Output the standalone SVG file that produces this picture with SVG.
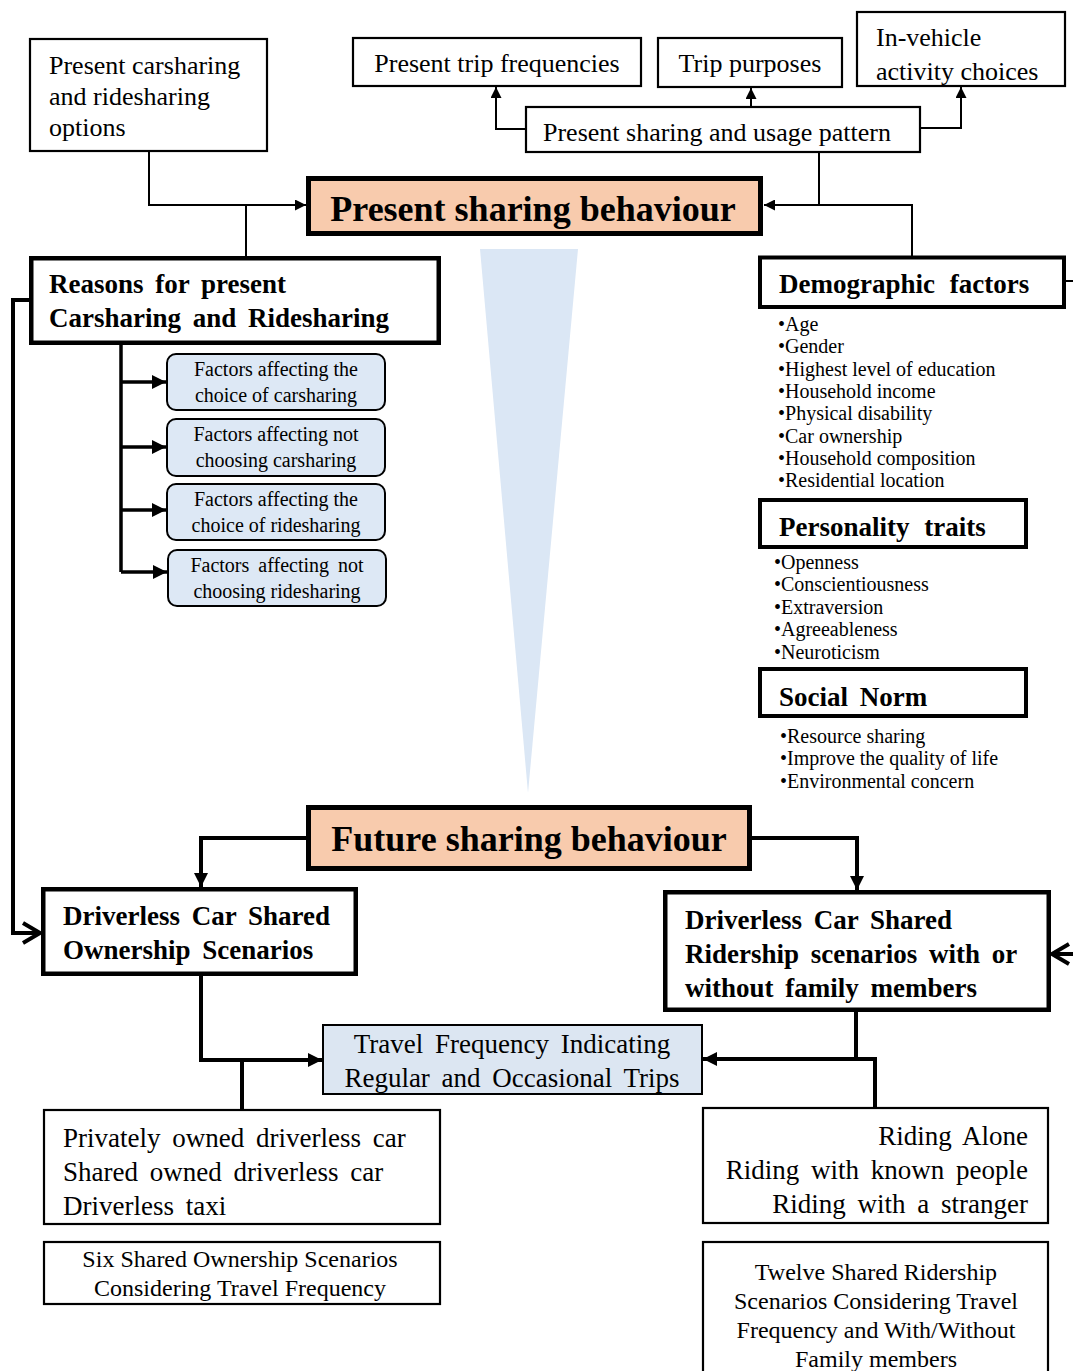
<svg xmlns="http://www.w3.org/2000/svg" width="1073" height="1371" viewBox="0 0 1073 1371">
  <style>
    .t { font-family: "Liberation Serif", "Times New Roman", serif; fill: #000; }
    .r26 { font-size: 26px; }
    .r27 { font-size: 27px; word-spacing: 5px; }
    .r24 { font-size: 24px; }
    .s20 { font-size: 20px; }
    .b27 { font-size: 27px; font-weight: bold; word-spacing: 5px; }
    .h36 { font-size: 36px; font-weight: bold; }
    .box { fill: #fff; stroke: #000; stroke-width: 2.2; }
    .boxb { fill: #fff; stroke: #000; stroke-width: 4.5; }
    .peach { fill: #f8cbad; stroke: #000; stroke-width: 5; }
    .rbox { fill: #dde8f5; stroke: #000; stroke-width: 2; }
    .blue { fill: #dce6f2; stroke: #000; stroke-width: 2; }
    .thin { fill: none; stroke: #000; stroke-width: 2; }
    .mid { fill: none; stroke: #000; stroke-width: 3.5; }
    .thick { fill: none; stroke: #000; stroke-width: 4; }
    .mid2 { text-anchor: middle; }
    .end { text-anchor: end; }
  </style>
  <defs>
    <marker id="tri" viewBox="0 0 12 12" refX="12" refY="6" markerWidth="11" markerHeight="11" orient="auto" markerUnits="userSpaceOnUse">
      <path d="M0,0 L12,6 L0,12 z" fill="#000"/>
    </marker>
    <marker id="triB" viewBox="0 0 14 14" refX="14" refY="7" markerWidth="14" markerHeight="14" orient="auto" markerUnits="userSpaceOnUse">
      <path d="M0,0 L14,7 L0,14 z" fill="#000"/>
    </marker>
    <marker id="chev" viewBox="0 0 20 24" refX="18" refY="12" markerWidth="20" markerHeight="24" orient="auto" markerUnits="userSpaceOnUse" overflow="visible">
      <path d="M1,2 L18,12 L1,22" fill="none" stroke="#000" stroke-width="4"/>
    </marker>
  </defs>

  <!-- background -->
  <rect x="0" y="0" width="1073" height="1371" fill="#fff"/>

  <!-- tapering band between present and future behaviour -->
  <polygon id="taper" points="480,249 578,249 528,793" fill="#dbe7f5"/>

  <!-- connectors -->
  <g id="connectors">
    <path class="thin" d="M149,152 V205 H306" marker-end="url(#tri)"/>
    <path class="thin" d="M246,205 V257"/>
    <path class="thin" d="M819,153 V205 H764" marker-end="url(#tri)"/>
    <path class="thin" d="M819,205 H912 V257"/>
    <path class="thin" d="M526,129 H496 V87" marker-end="url(#tri)"/>
    <path class="thin" d="M751,107 V88" marker-end="url(#tri)"/>
    <path class="thin" d="M920,128 H961 V87" marker-end="url(#tri)"/>
    <path class="thin" d="M1065,281 H1073"/>

    <path class="mid" d="M121,344 V572"/>
    <path class="mid" d="M121,382 H166" marker-end="url(#triB)"/>
    <path class="mid" d="M121,447 H166" marker-end="url(#triB)"/>
    <path class="mid" d="M121,510 H166" marker-end="url(#triB)"/>
    <path class="mid" d="M121,572 H167" marker-end="url(#triB)"/>

    <path class="thick" d="M31,300 H13 V933 H40" marker-end="url(#chev)"/>
    <path class="thick" d="M1073,954 H1052" marker-end="url(#chev)"/>

    <path class="thick" d="M308,838 H201 V887" marker-end="url(#triB)"/>
    <path class="thick" d="M750,838 H857 V890" marker-end="url(#triB)"/>
    <path class="thick" d="M201,975 V1060 H322" marker-end="url(#triB)"/>
    <path class="thick" d="M242,1060 V1109"/>
    <path class="thick" d="M856,1011 V1059 H703" marker-end="url(#triB)"/>
    <path class="thick" d="M856,1059 H875 V1107"/>
  </g>

  <!-- top row -->
  <g id="n-options">
    <rect class="box" x="30" y="39" width="237" height="112"/>
    <text class="t r26" x="49" y="74">Present carsharing</text>
    <text class="t r26" x="49" y="105">and ridesharing</text>
    <text class="t r26" x="49" y="136">options</text>
  </g>
  <g id="n-tripfreq">
    <rect class="box" x="353" y="38" width="288" height="48"/>
    <text class="t r26 mid2" x="497" y="72">Present trip frequencies</text>
  </g>
  <g id="n-purposes">
    <rect class="box" x="658" y="38" width="184" height="49"/>
    <text class="t r26 mid2" x="750" y="72">Trip purposes</text>
  </g>
  <g id="n-invehicle">
    <rect class="box" x="857" y="12" width="208" height="74"/>
    <text class="t r26" x="876" y="46">In-vehicle</text>
    <text class="t r26" x="876" y="80">activity choices</text>
  </g>
  <g id="n-usage">
    <rect class="box" x="526" y="107" width="394" height="45"/>
    <text class="t r26" x="543" y="141">Present sharing and usage pattern</text>
  </g>

  <!-- present behaviour -->
  <g id="n-present">
    <rect class="peach" x="308.5" y="178.5" width="452" height="55"/>
    <text class="t h36 mid2" x="533" y="221">Present sharing behaviour</text>
  </g>

  <g id="n-reasons">
    <rect class="boxb" x="31.25" y="258.25" width="407.5" height="84.5"/>
    <text class="t b27" x="49" y="293">Reasons for present</text>
    <text class="t b27" x="49" y="327">Carsharing and Ridesharing</text>
  </g>

  <g id="n-f1">
    <rect class="rbox" x="167" y="354" width="218" height="56" rx="9"/>
    <text class="t s20 mid2" x="276" y="376">Factors affecting the</text>
    <text class="t s20 mid2" x="276" y="402">choice of carsharing</text>
  </g>
  <g id="n-f2">
    <rect class="rbox" x="167" y="419" width="218" height="57" rx="9"/>
    <text class="t s20 mid2" x="276" y="441">Factors affecting not</text>
    <text class="t s20 mid2" x="276" y="467">choosing carsharing</text>
  </g>
  <g id="n-f3">
    <rect class="rbox" x="167" y="484" width="218" height="56" rx="9"/>
    <text class="t s20 mid2" x="276" y="506">Factors affecting the</text>
    <text class="t s20 mid2" x="276" y="532">choice of ridesharing</text>
  </g>
  <g id="n-f4">
    <rect class="rbox" x="168" y="550" width="218" height="56" rx="9"/>
    <text class="t s20 mid2" x="277" y="572" style="word-spacing:4px">Factors affecting not</text>
    <text class="t s20 mid2" x="277" y="598">choosing ridesharing</text>
  </g>

  <!-- right column of factors -->
  <g id="n-demographic">
    <rect class="boxb" x="760" y="257.5" width="304" height="49.5" style="stroke-width:4"/>
    <text class="t b27" x="779" y="293" style="word-spacing:8px">Demographic factors</text>
    <text class="t s20" x="778" y="331">•Age</text>
    <text class="t s20" x="778" y="353">•Gender</text>
    <text class="t s20" x="778" y="376">•Highest level of education</text>
    <text class="t s20" x="778" y="398">•Household income</text>
    <text class="t s20" x="778" y="420">•Physical disability</text>
    <text class="t s20" x="778" y="443">•Car ownership</text>
    <text class="t s20" x="778" y="465">•Household composition</text>
    <text class="t s20" x="778" y="487">•Residential location</text>
  </g>
  <g id="n-personality">
    <rect class="boxb" x="760" y="500" width="266" height="47" style="stroke-width:4"/>
    <text class="t b27" x="779" y="536" style="word-spacing:8px">Personality traits</text>
    <text class="t s20" x="774" y="569">•Openness</text>
    <text class="t s20" x="774" y="591">•Conscientiousness</text>
    <text class="t s20" x="774" y="614">•Extraversion</text>
    <text class="t s20" x="774" y="636">•Agreeableness</text>
    <text class="t s20" x="774" y="659">•Neuroticism</text>
  </g>
  <g id="n-social">
    <rect class="boxb" x="760" y="669" width="266" height="47" style="stroke-width:4"/>
    <text class="t b27" x="779" y="706">Social Norm</text>
    <text class="t s20" x="780" y="743">•Resource sharing</text>
    <text class="t s20" x="780" y="765">•Improve the quality of life</text>
    <text class="t s20" x="780" y="788">•Environmental concern</text>
  </g>

  <!-- future behaviour -->
  <g id="n-future">
    <rect class="peach" x="308.5" y="807.5" width="441" height="61"/>
    <text class="t h36 mid2" x="529" y="851">Future sharing behaviour</text>
  </g>

  <g id="n-ownership">
    <rect class="boxb" x="43.25" y="889.25" width="312.5" height="84.5"/>
    <text class="t b27" x="63" y="925">Driverless Car Shared</text>
    <text class="t b27" x="63" y="959">Ownership Scenarios</text>
  </g>
  <g id="n-ridership">
    <rect class="boxb" x="665.25" y="892.25" width="383.5" height="117.5"/>
    <text class="t b27" x="685" y="929">Driverless Car Shared</text>
    <text class="t b27" x="685" y="963">Ridership scenarios with or</text>
    <text class="t b27" x="685" y="997">without family members</text>
  </g>

  <g id="n-travel">
    <rect class="blue" x="323" y="1025" width="379" height="69"/>
    <text class="t r27 mid2" x="512" y="1053">Travel Frequency Indicating</text>
    <text class="t r27 mid2" x="512" y="1087">Regular and Occasional Trips</text>
  </g>

  <g id="n-owntypes">
    <rect class="box" x="44" y="1110" width="396" height="114"/>
    <text class="t r27" x="63" y="1147">Privately owned driverless car</text>
    <text class="t r27" x="63" y="1181">Shared owned driverless car</text>
    <text class="t r27" x="63" y="1215">Driverless taxi</text>
  </g>
  <g id="n-six">
    <rect class="box" x="44" y="1242" width="396" height="62"/>
    <text class="t r24 mid2" x="240" y="1267">Six Shared Ownership Scenarios</text>
    <text class="t r24 mid2" x="240" y="1296">Considering Travel Frequency</text>
  </g>

  <g id="n-ridetypes">
    <rect class="box" x="703" y="1108" width="345" height="115"/>
    <text class="t r27 end" x="1028" y="1145">Riding Alone</text>
    <text class="t r27 end" x="1028" y="1179">Riding with known people</text>
    <text class="t r27 end" x="1028" y="1213">Riding with a stranger</text>
  </g>
  <g id="n-twelve">
    <rect class="box" x="703" y="1242" width="345" height="140"/>
    <text class="t r24 mid2" x="876" y="1280">Twelve Shared Ridership</text>
    <text class="t r24 mid2" x="876" y="1309">Scenarios Considering Travel</text>
    <text class="t r24 mid2" x="876" y="1338">Frequency and With/Without</text>
    <text class="t r24 mid2" x="876" y="1367">Family members</text>
  </g>
</svg>
